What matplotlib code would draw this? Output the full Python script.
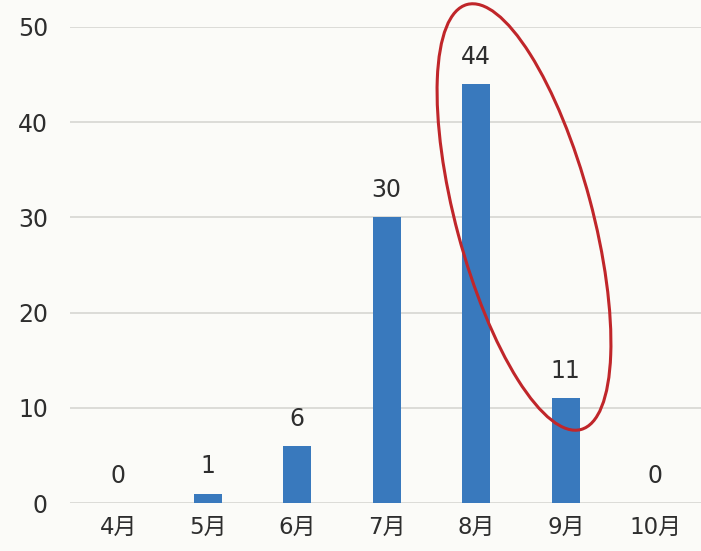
import matplotlib
matplotlib.use('Agg')
import matplotlib.pyplot as plt
from matplotlib.patches import Ellipse

months = ['4月', '5月', '6月', '7月', '8月', '9月', '10月']
counts = [0, 1, 6, 30, 44, 11, 0]
yticks = [0, 10, 20, 30, 40, 50]

plt.rcParams['font.family'] = ['DejaVu Sans', 'Noto Sans CJK JP']

bg = '#fbfbf8'
fig = plt.figure(figsize=(7.01, 5.51), dpi=100, facecolor=bg)
ax = fig.add_axes([0.1, 0.087, 0.9, 0.864], facecolor=bg)

x = list(range(len(months)))
ax.bar(x, counts, width=0.31, color='#3979bd', zorder=3)

for xi, v in zip(x, counts):
    ax.annotate(str(v), (xi, v), xytext=(0, 11), textcoords='offset points',
                ha='center', va='bottom', fontsize=17, color='#2e2e2e')

ax.set_ylim(0, 50)
ax.set_xlim(-0.536, 6.51)
ax.set_yticks(yticks)
ax.set_xticks(x)
ax.set_xticklabels(months)
ax.tick_params(axis='y', length=0, pad=16, labelsize=17, labelcolor='#2e2e2e')
ax.tick_params(axis='x', length=0, pad=9, labelsize=16.5, labelcolor='#2e2e2e')
ax.grid(axis='y', color='#dcdcd8', linewidth=1.4, zorder=0)
for s in ax.spines.values():
    s.set_visible(False)

# red circle around Aug-Sep
ell = Ellipse((5.24, 3.34), 1.36, 4.4, angle=15, fill=False,
              edgecolor='#c0262a', linewidth=2.2,
              transform=fig.dpi_scale_trans, zorder=5)
fig.patches.append(ell)

fig.savefig('out.png', dpi=100, facecolor=bg)
